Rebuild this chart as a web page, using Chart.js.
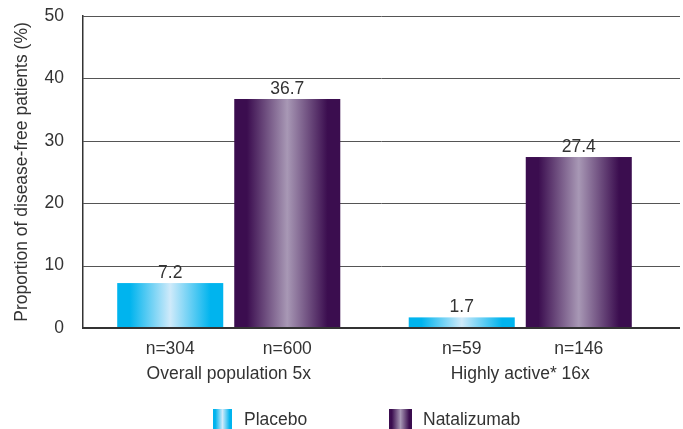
<!DOCTYPE html>
<html lang="en">
<head>
  <meta charset="UTF-8">
  <title>Disease-free patients</title>
  <script src="https://cdn.jsdelivr.net/npm/chart.js"></script>
  <style>
    body {
      margin: 0;
      padding: 0;
      background: #ffffff;
    }

    .chart-box {
      width: 683px;
      height: 429px;
      position: relative;
    }
  </style>
</head>
<body>
  <div class="chart-box">
    <canvas id="chart"></canvas>
  </div>

  <script>
    // chart data
    const categories = ['Overall population 5x', 'Highly active* 16x'];
    const placebo = [7.2, 1.7];
    const natalizumab = [36.7, 27.4];
    const placeboN = [304, 59];
    const natalizumabN = [600, 146];
    const yTicks = [0, 10, 20, 30, 40, 50];

    const FONT = "'Liberation Sans', Arial, sans-serif";
    const SIZE = 17.5;
    const TEXT = '#333333';

    // gradient stops per series: edge, center
    const shades = [
      { edge: '#00b4ee', mid: '#cfeafa', name: 'Placebo', n: placeboN },
      { edge: '#3b0d4f', mid: '#a898b5', name: 'Natalizumab', n: natalizumabN }
    ];

    function barGradient(ctx, x0, x1, s) {
      const g = ctx.createLinearGradient(x0, 0, x1, 0);
      g.addColorStop(0, s.edge);
      g.addColorStop(0.12, s.edge);
      g.addColorStop(0.5, s.mid);
      g.addColorStop(0.88, s.edge);
      g.addColorStop(1, s.edge);
      return g;
    }

    // grid lines reaching right edge, gradient bars, labels, legend
    const decorations = {
      id: 'decorations',
      beforeDatasetsDraw(chart) {
        const { ctx, chartArea, scales } = chart;
        ctx.save();
        ctx.strokeStyle = '#555555';
        ctx.lineWidth = 1;
        yTicks.forEach(v => {
          if (v === 0) return;
          const y = Math.round(scales.y.getPixelForValue(v)) + 0.5;
          ctx.beginPath();
          ctx.moveTo(chartArea.left, y);
          ctx.lineTo(chart.width - 3, y);
          ctx.stroke();
        });
        ctx.restore();
      },
      afterDatasetsDraw(chart) {
        const { ctx, chartArea, scales } = chart;
        ctx.save();
        chart.data.datasets.forEach((ds, di) => {
          const s = shades[di];
          chart.getDatasetMeta(di).data.forEach((el, i) => {
            const x0 = el.x - el.width / 2;
            const x1 = el.x + el.width / 2;
            ctx.fillStyle = barGradient(ctx, x0, x1, s);
            ctx.fillRect(x0, el.y, el.width, el.base - el.y);

            ctx.fillStyle = TEXT;
            ctx.font = SIZE + 'px ' + FONT;
            ctx.textAlign = 'center';
            ctx.textBaseline = 'bottom';
            ctx.fillText(ds.data[i].toFixed(1), el.x, el.y - 1);

            ctx.textBaseline = 'middle';
            ctx.fillText('n=' + s.n[i], el.x, chartArea.bottom + 21);
          });
        });

        // baseline
        const y0 = scales.y.getPixelForValue(0);
        ctx.strokeStyle = '#333333';
        ctx.lineWidth = 2;
        ctx.beginPath();
        ctx.moveTo(chartArea.left, y0);
        ctx.lineTo(chart.width - 3, y0);
        ctx.stroke();

        // legend
        const items = [
          { s: shades[0], box: [213, 409, 19, 20], tx: 244 },
          { s: shades[1], box: [389, 409, 23, 20], tx: 423 }
        ];
        items.forEach(it => {
          const [bx, by, bw, bh] = it.box;
          ctx.fillStyle = barGradient(ctx, bx, bx + bw, it.s);
          ctx.fillRect(bx, by, bw, bh);
          ctx.fillStyle = TEXT;
          ctx.font = SIZE + 'px ' + FONT;
          ctx.textAlign = 'left';
          ctx.textBaseline = 'middle';
          ctx.fillText(it.s.name, it.tx, by + bh / 2 + 1);
        });
        ctx.restore();
      }
    };

    new Chart(document.getElementById('chart'), {
      type: 'bar',
      data: {
        labels: categories,
        datasets: [
          { label: 'Placebo', data: placebo, backgroundColor: 'rgba(0,0,0,0)' },
          { label: 'Natalizumab', data: natalizumab, backgroundColor: 'rgba(0,0,0,0)' }
        ]
      },
      options: {
        responsive: true,
        maintainAspectRatio: false,
        animation: false,
        categoryPercentage: 0.803,
        barPercentage: 0.906,
        layout: { padding: { top: 16, right: 17, left: 0, bottom: 0 } },
        plugins: {
          legend: { display: false },
          tooltip: { enabled: false }
        },
        scales: {
          x: {
            grid: { display: false },
            border: { display: false },
            ticks: {
              color: TEXT,
              font: { family: FONT, size: SIZE },
              padding: 28,
              maxRotation: 0
            },
            afterFit(scale) { scale.height = 101; }
          },
          y: {
            min: 0,
            max: 50,
            grid: { display: false },
            border: { display: true, color: '#333333', width: 1.5 },
            ticks: {
              stepSize: 10,
              color: TEXT,
              font: { family: FONT, size: SIZE },
              padding: 11
            },
            title: {
              display: true,
              text: 'Proportion of disease-free patients (%)',
              color: TEXT,
              font: { family: FONT, size: SIZE },
              padding: { top: 12, bottom: 0 }
            },
            afterFit(scale) {
              scale.width = 83;
              scale.paddingTop = 0;
              scale.paddingBottom = 0;
            }
          }
        }
      },
      plugins: [decorations]
    });
  </script>
</body>
</html>
